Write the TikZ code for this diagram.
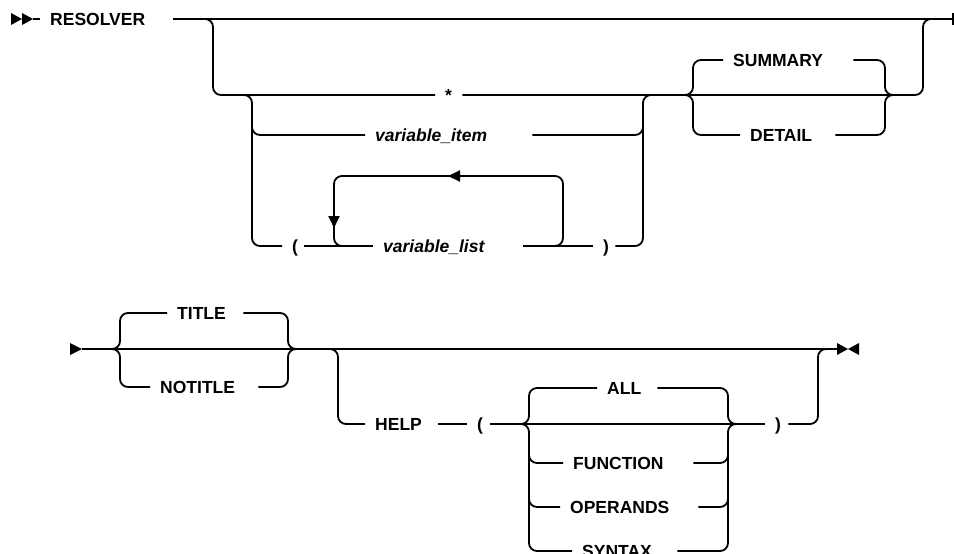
\documentclass[tikz,border=0pt]{standalone}
\usepackage{fontspec}
\setmainfont{Liberation Sans}
\usetikzlibrary{arrows.meta}

\begin{document}
\begin{tikzpicture}[x=1pt,y=-1pt,
  rail/.style={line width=1.8pt,rounded corners=8pt},
  kw/.style={anchor=west,inner xsep=10pt,inner ysep=0pt,text height=13pt,text depth=0pt,
    align=left,font=\fontsize{17.5}{20}\selectfont\bfseries},
  var/.style={kw,font=\fontsize{17.5}{20}\selectfont\bfseries\itshape},
  tip/.style={-{Triangle[length=12pt,width=11pt]}}]
\useasboundingbox (0,0) rectangle (954,554);

% first line
\coordinate (start1) at (33,19);
\coordinate (end1) at (953,19);
\fill (11,13) -- (22,19) -- (11,25) -- cycle (22,13) -- (33,19) -- (22,25) -- cycle;
\node[kw,text width=113pt] (resolver) at (40,19) {RESOLVER};
\draw[rail] (start1) -- (resolver.west);
\draw[rail] (resolver.east) -- (end1);
\draw[line width=1.8pt] (953,13) -- (953,25);

\node[kw,text width=7pt] (star) at (435,95) {*};
\node[var,text width=147pt] (vitem) at (365,135) {variable\_item};
\node[kw,text width=2pt] (lpar) at (282,246) {(};
\node[var,text width=130pt] (vlist) at (373,246) {variable\_list};
\node[kw,text width=2pt] (rpar) at (593,246) {)};
\node[kw,text width=110pt] (summ) at (723,60) {SUMMARY};
\node[kw,text width=75pt] (detail) at (740,135) {DETAIL};

\draw[rail] (190,19) -- (213,19) -- (213,95) -- (star.west);
\draw[rail] (star.east) -- (923,95) -- (923,19) -- (940,19);
\draw[rail] (235,95) -- (252,95) -- (252,246) -- (lpar.west);
\draw[rail] (252,115) -- (252,135) -- (vitem.west);
\draw[rail] (vitem.east) -- (643,135) -- (643,115);
\draw[rail] (lpar.east) -- (vlist.west);
\draw[rail] (vlist.east) -- (rpar.west);
\draw[rail] (rpar.east) -- (643,246) -- (643,95) -- (660,95);
% repeat loop
\draw[rail,tip] (545,246) -- (563,246) -- (563,176) -- (448,176);
\draw[rail,tip] (460,176) -- (334,176) -- (334,228);
\draw[rail] (334,215) -- (334,246) -- (352,246);

\draw[rail] (680,95) -- (693,95) -- (693,60) -- (summ.west);
\draw[rail] (680,95) -- (693,95) -- (693,135) -- (detail.west);
\draw[rail] (summ.east) -- (885,60) -- (885,95) -- (900,95);
\draw[rail] (detail.east) -- (885,135) -- (885,95) -- (900,95);

% second line
\coordinate (start2) at (82,349);
\coordinate (end2) at (837,349);
\fill (70,343) -- (82,349) -- (70,355) -- cycle;
\fill (837,343) -- (848,349) -- (837,355) -- cycle (859,343) -- (848,349) -- (859,355) -- cycle;
\draw[rail] (start2) -- (end2);

\node[kw,text width=56pt] (title) at (167,313) {TITLE};
\node[kw,text width=88pt] (notitle) at (150,387) {NOTITLE};
\node[kw,text width=53pt] (help) at (365,424) {HELP};
\node[kw,text width=3pt] (lpar2) at (467,424) {(};
\node[kw,text width=3pt] (rpar2) at (765,424) {)};
\node[kw,text width=40pt] (all) at (597,388) {ALL};
\node[kw,text width=110pt] (func) at (563,463) {FUNCTION};
\node[kw,text width=118pt] (oper) at (560,507) {OPERANDS};
\node[kw,text width=85pt] (syntax) at (572,551) {SYNTAX};

\draw[rail] (105,349) -- (120,349) -- (120,313) -- (title.west);
\draw[rail] (105,349) -- (120,349) -- (120,387) -- (notitle.west);
\draw[rail] (title.east) -- (288,313) -- (288,349) -- (300,349);
\draw[rail] (notitle.east) -- (288,387) -- (288,349) -- (300,349);

\draw[rail] (320,349) -- (338,349) -- (338,424) -- (help.west);
\draw[rail] (help.east) -- (lpar2.west);
\draw[rail] (lpar2.east) -- (rpar2.west);
\draw[rail] (rpar2.east) -- (818,424) -- (818,349) -- (830,349);

\draw[rail] (515,424) -- (529,424) -- (529,388) -- (all.west);
\draw[rail] (515,424) -- (529,424) -- (529,551) -- (syntax.west);
\draw[rail] (529,440) -- (529,463) -- (func.west);
\draw[rail] (529,485) -- (529,507) -- (oper.west);
\draw[rail] (all.east) -- (728,388) -- (728,424) -- (742,424);
\draw[rail] (syntax.east) -- (728,551) -- (728,424) -- (742,424);
\draw[rail] (func.east) -- (728,463) -- (728,440);
\draw[rail] (oper.east) -- (728,507) -- (728,485);
\end{tikzpicture}
\end{document}
